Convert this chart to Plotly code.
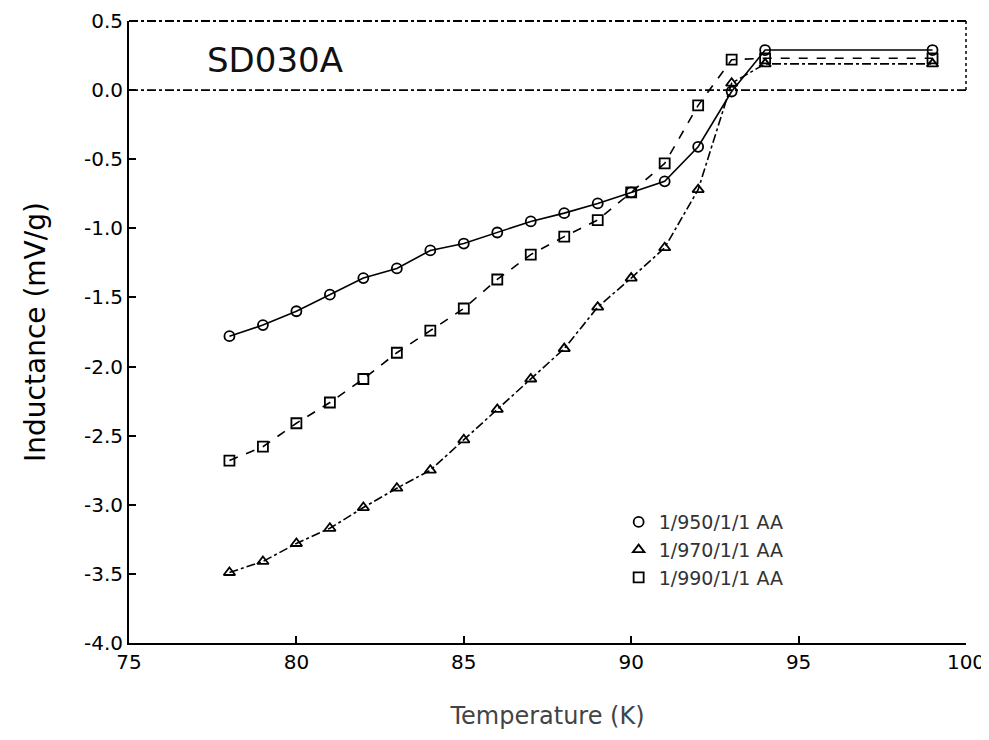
import plotly.graph_objects as go

temps = [78, 79, 80, 81, 82, 83, 84, 85, 86, 87, 88, 89, 90, 91, 92, 93, 94, 99]
s950 = [-1.78, -1.70, -1.60, -1.48, -1.36, -1.29, -1.16, -1.11, -1.03, -0.95,
        -0.89, -0.82, -0.74, -0.66, -0.41, -0.01, 0.29, 0.29]
s970 = [-3.49, -3.41, -3.28, -3.17, -3.02, -2.88, -2.75, -2.53, -2.31, -2.09,
        -1.87, -1.57, -1.36, -1.14, -0.72, 0.05, 0.19, 0.19]
s990 = [-2.68, -2.58, -2.41, -2.26, -2.09, -1.90, -1.74, -1.58, -1.37, -1.19,
        -1.06, -0.94, -0.74, -0.53, -0.11, 0.22, 0.23, 0.23]
names = ["1/950/1/1 AA", "1/970/1/1 AA", "1/990/1/1 AA"]
x_ticks = [75, 80, 85, 90, 95, 100]
y_ticks = [0.5, 0.0, -0.5, -1.0, -1.5, -2.0, -2.5, -3.0, -3.5, -4.0]
sample_label = "SD030A"

series = [
    (s950, "circle-open", "solid"),
    (s970, "triangle-up-open", "dashdot"),
    (s990, "square-open", "dash"),
]

fig = go.Figure()
for (vals, sym, dash), nm in zip(series, names):
    fig.add_trace(go.Scatter(
        x=temps, y=vals, mode="lines+markers", showlegend=False,
        line=dict(color="black", width=1.6, dash=dash),
        marker=dict(symbol=sym, size=10, color="black", line=dict(width=1.8, color="black")),
    ))
for (vals, sym, dash), nm in zip(series, names):
    fig.add_trace(go.Scatter(
        x=[None], y=[None], mode="markers", name=nm,
        marker=dict(symbol=sym, size=10, color="black", line=dict(width=1.8, color="black")),
    ))

# frame: dashed top, dotted right, dash-dot zero line
fig.add_shape(type="line", xref="paper", yref="paper", x0=0, x1=1, y0=1, y1=1,
              line=dict(color="black", width=1.8, dash="dashdot"))
fig.add_shape(type="line", xref="paper", yref="y", x0=1, x1=1, y0=0, y1=0.5,
              line=dict(color="black", width=1.5, dash="dot"))
fig.add_shape(type="line", xref="paper", yref="y", x0=0, x1=1, y0=0, y1=0,
              line=dict(color="black", width=1.6, dash="dashdot"))

fig.add_annotation(x=79.35, y=0.22, text=sample_label, showarrow=False,
                   font=dict(family="DejaVu Sans", size=34, color="#111"))

fig.update_layout(
    width=989, height=740,
    margin=dict(l=121, r=31, t=13, b=105),
    paper_bgcolor="white", plot_bgcolor="white",
    font=dict(family="DejaVu Sans", color="black"),
    legend=dict(x=0.585, y=0.225, xanchor="left", yanchor="top",
                font=dict(size=19, color="#333"), bgcolor="rgba(0,0,0,0)",
                tracegroupgap=2),
    xaxis=dict(range=[75, 100], tickvals=x_ticks, ticktext=[str(t) for t in x_ticks],
               showgrid=False, zeroline=False, showline=True, linecolor="black", linewidth=2,
               ticks="inside", ticklen=7, tickwidth=1.5, tickcolor="black",
               tickfont=dict(size=20), automargin=False,
               title=dict(text="Temperature (K)", font=dict(size=24, color="#444"), standoff=34)),
    yaxis=dict(range=[-4.0, 0.5], tickvals=y_ticks, ticktext=["%.1f" % t for t in y_ticks],
               showgrid=False, zeroline=False, showline=True, linecolor="black", linewidth=2,
               ticks="inside", ticklen=7, tickwidth=1.5, tickcolor="black",
               tickfont=dict(size=20), automargin=False,
               title=dict(text="Inductance (mV/g)", font=dict(size=28), standoff=30)),
)

fig.write_html("out.html")
